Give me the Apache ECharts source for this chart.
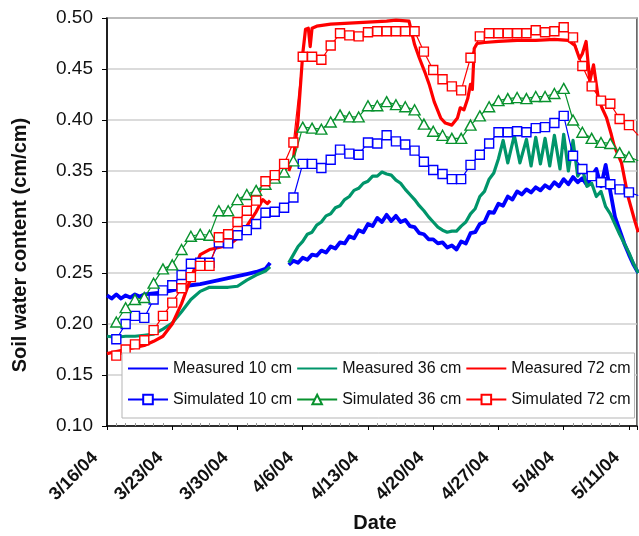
<!DOCTYPE html>
<html>
<head>
<meta charset="utf-8">
<script src="https://cdn.jsdelivr.net/npm/echarts@6/dist/echarts.min.js"></script>
<style>
  html, body { margin: 0; padding: 0; background: #fff; }
  #chart { width: 639px; height: 536px; }
</style>
</head>
<body>
<div id="chart"></div>
<script>
// Date axis: days counted from 3/16/04, one labelled tick per week
const tickLabels = ['3/16/04', '3/23/04', '3/30/04', '4/6/04', '4/13/04', '4/20/04', '4/27/04', '5/4/04', '5/11/04'];

// Measured soil water content (cm/cm), sensor readings; null = logger gap
const m10Days = [0, 0.5, 1, 1.5, 2, 2.5, 3, 3.5, 4, 5, 6, 7, 8, 9, 10, 11, 12, 13, 14, 15, 16, 17, 17.5, 18.5,
  19.5, 20, 20.5, 21, 21.5, 22, 22.5, 23, 23.5, 24, 24.5, 25, 25.5, 26, 26.5, 27, 27.5, 28, 28.5, 29, 29.5,
  30, 30.5, 31, 31.5, 32, 32.5, 33, 33.5, 34, 34.5, 35, 35.5, 36, 36.5, 37, 37.5, 38, 38.5, 39, 39.5, 40,
  40.5, 41, 41.5, 42, 42.5, 43, 43.5, 44, 44.5, 45, 45.5, 46, 46.5, 47, 47.5, 48, 48.5, 49, 49.5, 50, 50.5,
  51, 51.5, 52, 52.5, 53, 53.5, 54, 54.5, 55, 55.5, 56, 56.5, 57];
const m10Values = [0.228, 0.225, 0.229, 0.225, 0.228, 0.226, 0.229, 0.227, 0.229, 0.230, 0.231, 0.233, 0.235,
  0.238, 0.239, 0.241, 0.243, 0.245, 0.247, 0.249, 0.251, 0.254, 0.260, null,
  0.258, 0.262, 0.260, 0.265, 0.263, 0.268, 0.267, 0.272, 0.270, 0.276, 0.274, 0.280, 0.279, 0.286, 0.284,
  0.292, 0.290, 0.298, 0.296, 0.304, 0.300, 0.307, 0.301, 0.306, 0.300, 0.302, 0.296, 0.295, 0.289, 0.288,
  0.283, 0.283, 0.279, 0.280, 0.275, 0.277, 0.273, 0.281, 0.279, 0.289, 0.290, 0.298, 0.300, 0.310, 0.309,
  0.318, 0.316, 0.325, 0.322, 0.330, 0.327, 0.332, 0.329, 0.334, 0.331, 0.336, 0.333, 0.339, 0.335, 0.342,
  0.337, 0.344, 0.339, 0.343, 0.336, 0.345, 0.352, 0.335, 0.356, 0.330, 0.305, 0.292, 0.279, 0.268, 0.258, 0.250];

const m36Days = [0, 1, 2, 3, 4, 5, 6, 7, 8, 9, 10, 11, 12, 13, 14, 15, 16, 17, 17.5, 18.5,
  19.5, 20, 20.5, 21, 21.5, 22, 22.5, 23, 23.5, 24, 24.5, 25, 25.5, 26, 26.5, 27, 27.5, 28, 28.5, 29, 29.5,
  30, 30.5, 31, 31.5, 32, 32.5, 33, 33.5, 34, 34.5, 35, 35.5, 36, 36.5, 37, 37.5, 38, 38.5, 39, 39.5, 40,
  40.5, 41, 41.5, 42, 42.5, 43, 43.7, 44.3, 45, 45.5, 46, 46.5, 47, 47.5, 48, 48.6, 49, 49.5, 50, 50.5,
  51, 51.5, 52, 52.5, 53, 53.5, 54, 54.5, 55, 55.5, 56, 56.5, 57];
const m36Values = [0.188, 0.187, 0.188, 0.188, 0.189, 0.190, 0.195, 0.201, 0.212, 0.224, 0.232, 0.236, 0.236,
  0.236, 0.237, 0.243, 0.248, 0.252, 0.256, null,
  0.260, 0.268, 0.276, 0.281, 0.288, 0.290, 0.297, 0.300, 0.306, 0.308, 0.314, 0.316, 0.322, 0.325, 0.331,
  0.333, 0.338, 0.340, 0.345, 0.345, 0.349, 0.347, 0.346, 0.341, 0.338, 0.332, 0.327, 0.322, 0.316, 0.311,
  0.305, 0.300, 0.295, 0.292, 0.290, 0.291, 0.291, 0.296, 0.300, 0.308, 0.313, 0.325, 0.330, 0.342, 0.348,
  0.362, 0.380, 0.358, 0.385, 0.358, 0.381, 0.355, 0.383, 0.357, 0.382, 0.355, 0.385, 0.352, 0.386, 0.350,
  0.380, 0.345, 0.352, 0.335, 0.338, 0.325, 0.330, 0.315, 0.308, 0.298, 0.288, 0.279, 0.270, 0.259, 0.250];

const m72Days = [0, 1, 2, 3, 4, 5, 6, 7, 8, 9, 10, 11, 12, 13, 14, 15, 16, 16.7, 17.2, 17.5, 18.5,
  19.5, 20, 20.5, 21, 21.3, 21.6, 21.8, 22, 22.5, 24, 26, 28, 30, 31, 32.4, 33, 33.5, 34.1, 34.6, 35.1,
  35.8, 36.3, 37, 37.6, 37.9, 38.3, 38.7, 39, 39.2, 39.4, 39.7, 40.5, 42, 44, 46, 48, 49.5, 50.2, 50.7,
  51, 51.4, 51.8, 52.2, 52.7, 53.1, 53.6, 54.1, 54.4, 55.2, 55.9, 56.6, 57];
const m72Values = [0.171, 0.173, 0.175, 0.177, 0.179, 0.183, 0.188, 0.200, 0.220, 0.245, 0.268, 0.273, 0.275,
  0.277, 0.284, 0.296, 0.310, 0.322, 0.318, 0.321, null,
  0.350, 0.362, 0.400, 0.465, 0.489, 0.490, 0.472, 0.490, 0.492, 0.494, 0.495, 0.496, 0.497, 0.498, 0.497,
  0.474, 0.461, 0.447, 0.434, 0.418, 0.402, 0.397, 0.395, 0.402, 0.412, 0.410, 0.421, 0.435, 0.430, 0.470,
  0.475, 0.476, 0.477, 0.478, 0.478, 0.479, 0.478, 0.473, 0.460, 0.465, 0.477, 0.438, 0.454, 0.422, 0.412,
  0.402, 0.386, 0.375, 0.358, 0.325, 0.302, 0.290];

// Simulated daily values, starting on 3/17/04 (day 1)
const simFirstDay = 1;
const s10Values = [0.185, 0.200, 0.208, 0.206, 0.224, 0.233, 0.238, 0.248, 0.259, 0.260,
  0.260, 0.280, 0.279, 0.287, 0.292, 0.298, 0.309, 0.310, 0.314, 0.324,
  0.357, 0.357, 0.353, 0.361, 0.371, 0.367, 0.366, 0.378, 0.377, 0.385,
  0.379, 0.376, 0.370, 0.359, 0.351, 0.347, 0.342, 0.342, 0.356, 0.366,
  0.377, 0.388, 0.388, 0.389, 0.388, 0.392, 0.393, 0.397, 0.404, 0.365,
  0.352, 0.345, 0.339, 0.337, 0.332, 0.329, 0.326];
const s36Values = [0.202, 0.216, 0.224, 0.226, 0.240, 0.254, 0.258, 0.273, 0.286, 0.288,
  0.287, 0.311, 0.311, 0.322, 0.327, 0.331, 0.337, 0.343, 0.349, 0.360,
  0.393, 0.392, 0.391, 0.398, 0.405, 0.403, 0.403, 0.414, 0.414, 0.418,
  0.415, 0.413, 0.410, 0.396, 0.389, 0.385, 0.382, 0.382, 0.395, 0.404,
  0.413, 0.419, 0.421, 0.422, 0.421, 0.423, 0.423, 0.426, 0.431, 0.400,
  0.388, 0.382, 0.378, 0.377, 0.368, 0.364, 0.360];
const s72Values = [0.169, 0.175, 0.180, 0.184, 0.194, 0.208, 0.221, 0.235, 0.246, 0.257,
  0.257, 0.285, 0.288, 0.300, 0.311, 0.321, 0.340, 0.346, 0.357, 0.378,
  0.462, 0.462, 0.459, 0.473, 0.485, 0.483, 0.482, 0.486, 0.487, 0.487,
  0.487, 0.487, 0.487, 0.467, 0.449, 0.440, 0.433, 0.429, 0.461, 0.482,
  0.485, 0.485, 0.485, 0.485, 0.485, 0.488, 0.486, 0.487, 0.491, 0.481,
  0.453, 0.433, 0.419, 0.416, 0.401, 0.395, 0.385];

const seriesNames = ['Measured 10 cm', 'Measured 36 cm', 'Measured 72 cm',
  'Simulated 10 cm', 'Simulated 36 cm', 'Simulated 72 cm'];

const BLUE = '#0000ff', TEAL = '#00956a', GREEN = '#08922e', RED = '#ff0000';
const FONT = '"Liberation Sans", Arial, sans-serif';

function measuredData(days, vals) {
  return days.map((d, i) => [d, vals[i] === null ? '-' : vals[i]]);
}
function simulatedData(vals) {
  return vals.map((v, i) => [simFirstDay + i, v]);
}

function measured(name, color, days, vals, width) {
  return {
    name, type: 'line', data: measuredData(days, vals),
    showSymbol: false, symbol: 'none', connectNulls: false,
    lineStyle: { color, width, join: 'round' },
    itemStyle: { color },
    emphasis: { disabled: true }
  };
}
function simulated(name, color, vals, symbol, size) {
  return {
    name, type: 'line', data: simulatedData(vals),
    symbol, symbolSize: size, showAllSymbol: true,
    lineStyle: { color, width: 1.2 },
    itemStyle: { color: '#ffffff', borderColor: color, borderWidth: 1.4 },
    emphasis: { disabled: true }
  };
}

// Measured entries show a plain line in the legend, simulated ones line + marker
const legendItems = seriesNames.map((name, i) =>
  i < 3 ? { name, itemStyle: { opacity: 0 } } : { name });

const chart = echarts.init(document.getElementById('chart'), null, { renderer: 'canvas' });

chart.setOption({
  animation: false,
  backgroundColor: '#ffffff',
  textStyle: { fontFamily: FONT },
  grid: {
    left: 107, top: 18, width: 534, height: 408,
    show: true, borderColor: '#555', borderWidth: 1.5, backgroundColor: 'transparent'
  },
  xAxis: {
    type: 'value', min: 0, max: 56.85, interval: 7,
    axisLine: { show: true, onZero: false, lineStyle: { color: '#000', width: 1.5 } },
    axisTick: { show: true, length: 4, lineStyle: { color: '#000', width: 1 } },
    minorTick: { show: true, splitNumber: 7, length: -3, lineStyle: { color: '#999', width: 1 } },
    splitLine: { show: false },
    axisLabel: {
      rotate: 45, margin: 17, padding: [0, 17, 0, 0],
      fontSize: 18, fontWeight: 'bold', color: '#111', fontFamily: FONT,
      formatter: function (v) {
        const k = Math.round(v / 7);
        return Math.abs(v - 7 * k) < 1e-6 && tickLabels[k] ? tickLabels[k] : '';
      }
    }
  },
  yAxis: {
    type: 'value', min: 0.10, max: 0.50, interval: 0.05,
    axisLine: { show: true, lineStyle: { color: '#000', width: 1.5 } },
    axisTick: { show: true, length: 5, lineStyle: { color: '#000' } },
    splitLine: { show: true, lineStyle: { color: '#cfcfcf', width: 1.5 } },
    axisLabel: {
      margin: 14, fontSize: 19, color: '#111', fontFamily: FONT,
      formatter: v => v.toFixed(2)
    }
  },
  legend: {
    data: legendItems,
    left: 122, top: 353, width: 512,
    orient: 'horizontal',
    itemWidth: 40, itemHeight: 12, itemGap: 4,
    padding: [2, 4, 5, 5],
    backgroundColor: '#ffffff', borderColor: '#b5b5b5', borderWidth: 1, borderRadius: 0,
    selectedMode: false,
    textStyle: { fontSize: 16, lineHeight: 27, color: '#111', fontFamily: FONT }
  },
  graphic: [
    {
      type: 'text', x: 20, y: 245, rotation: Math.PI / 2,
      style: {
        text: 'Soil water content (cm/cm)', fill: '#111',
        font: 'bold 20px "Liberation Sans", Arial, sans-serif',
        align: 'center', verticalAlign: 'middle'
      }
    },
    {
      type: 'text', x: 375, y: 523,
      style: {
        text: 'Date', fill: '#111',
        font: 'bold 20px "Liberation Sans", Arial, sans-serif',
        align: 'center', verticalAlign: 'middle'
      }
    }
  ],
  series: [
    measured(seriesNames[0], BLUE, m10Days, m10Values, 3.8),
    measured(seriesNames[1], TEAL, m36Days, m36Values, 3.2),
    measured(seriesNames[2], RED, m72Days, m72Values, 3.2),
    simulated(seriesNames[3], BLUE, s10Values, 'rect', 9),
    simulated(seriesNames[4], GREEN, s36Values, 'triangle', [11, 10]),
    simulated(seriesNames[5], RED, s72Values, 'rect', 9)
  ]
});
</script>
</body>
</html>
